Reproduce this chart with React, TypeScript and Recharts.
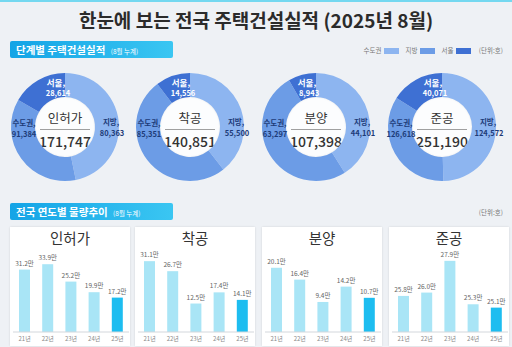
import React from 'react';
import { PieChart, Pie, Cell, BarChart, Bar, XAxis, YAxis, LabelList } from 'recharts';

const stages = ['인허가', '착공', '분양', '준공'];
const totals = [171747, 140851, 107398, 251190];
const localValues = [80363, 55500, 44101, 124572];
const capitalValues = [91384, 85351, 63297, 126618];
const seoulValues = [28614, 14556, 8943, 40071];

const years = ['21년', '22년', '23년', '24년', '25년'];
const permitTrend = [31.2, 33.9, 25.2, 19.9, 17.2];
const startTrend = [31.1, 26.7, 12.5, 17.4, 14.1];
const saleTrend = [20.1, 16.4, 9.4, 14.2, 10.7];
const completionTrend = [25.8, 26.0, 27.9, 25.3, 25.1];

const FONT = '"Noto Sans CJK KR", "Noto Sans", sans-serif';
const SLICE_COLORS = ['#8db5f0', '#6c9ce6', '#3e70d3'];
const NAVY = '#1d3b78';

const fmt = (n: number) => n.toLocaleString('en-US');

const SectionHeader: React.FC<{ top: number; title: string }> = ({ top, title }) => (
    <div style={{
        position: 'absolute', left: 10, top, width: 163, height: 17,
        background: 'linear-gradient(90deg, #14a4e6, #3ac6f2)', borderRadius: 2,
        color: '#fff', fontWeight: 700, fontSize: 10.5, lineHeight: '17px', paddingLeft: 6, boxSizing: 'border-box',
        whiteSpace: 'nowrap'
    }}>
        {title} <span style={{ fontSize: 6.5, fontWeight: 400, marginLeft: 3 }}>(8월 누계)</span>
    </div>
);

const Donut: React.FC<{ idx: number; cx: number }> = ({ idx, cx }) => {
    const cy = 127;
    const w = 130;
    const h = 130;
    const inner = 30;
    const data = [
        { name: '지방', value: localValues[idx] },
        { name: '수도권', value: capitalValues[idx] - seoulValues[idx] },
        { name: '서울', value: seoulValues[idx] },
    ];

    const renderLabel = (props: any) => {
        const x0 = props.cx ?? w / 2;
        const y0 = props.cy ?? h / 2;
        const common = { fontSize: 7.5, fontWeight: 700, textAnchor: 'middle' as const, fontFamily: FONT };
        if (props.index === 0) {
            return (
                <g>
                    <text x={x0 + 46} y={y0 - 2} fill={NAVY} {...common}>지방,</text>
                    <text x={x0 + 47} y={y0 + 9} fill={NAVY} {...common}>{fmt(localValues[idx])}</text>
                </g>
            );
        }
        if (props.index === 1) {
            return (
                <g>
                    <text x={x0 - 41} y={y0 - 1} fill={NAVY} {...common}>수도권,</text>
                    <text x={x0 - 41} y={y0 + 10} fill={NAVY} {...common}>{fmt(capitalValues[idx])}</text>
                </g>
            );
        }
        return (
            <g>
                <text x={x0 - 9} y={y0 - 41} fill="#fff" {...common} fontSize={8.5}>서울,</text>
                <text x={x0 - 7} y={y0 - 31} fill="#fff" {...common}>{fmt(seoulValues[idx])}</text>
            </g>
        );
    };

    return (
        <div style={{ position: 'absolute', left: cx - w / 2, top: cy - h / 2, width: w, height: h }}>
            <div style={{
                position: 'absolute', left: w / 2 - inner, top: h / 2 - inner, width: inner * 2, height: inner * 2, borderRadius: '50%',
                background: '#fcfdfe', boxShadow: 'inset 0 0 2px rgba(0,0,0,0.1)'
            }} />
            <div style={{ position: 'absolute', left: 0, top: h / 2 - 18, width: w, textAlign: 'center', fontSize: 12.5, color: '#333', lineHeight: '17px' }}>
                {stages[idx]}
            </div>
            <div style={{ position: 'absolute', left: w / 2 - 25, top: h / 2 + 2, width: 50, height: 1, background: '#a0a0a0' }} />
            <div style={{ position: 'absolute', left: 0, top: h / 2 + 5, width: w, textAlign: 'center', fontSize: 14, fontWeight: 500, color: '#333', lineHeight: '18px' }}>
                {fmt(totals[idx])}
            </div>
            <div style={{ position: 'absolute', left: 0, top: 0 }}>
                <PieChart width={w} height={h} margin={{ top: 0, right: 0, bottom: 0, left: 0 }}>
                    <Pie
                        data={data}
                        dataKey="value"
                        cx="50%"
                        cy="50%"
                        startAngle={90}
                        endAngle={-270}
                        innerRadius={inner}
                        outerRadius={54}
                        stroke="none"
                        labelLine={false}
                        label={renderLabel}
                        isAnimationActive={false}
                    >
                        {data.map((_, i) => <Cell key={i} fill={SLICE_COLORS[i]} />)}
                    </Pie>
                </PieChart>
            </div>
        </div>
    );
};

const TrendCard: React.FC<{ title: string; values: number[]; domain: [number, number]; left: number }> = ({ title, values, domain, left }) => {
    const data = years.map((y, i) => ({ year: y, value: values[i] }));
    return (
        <div style={{ position: 'absolute', left, top: 227, width: 120, height: 119, background: '#fff', boxShadow: '0 0 2px rgba(0,0,0,0.12)' }}>
            <div style={{ position: 'absolute', top: 1, width: '100%', textAlign: 'center', fontSize: 14.5, color: '#333', lineHeight: '20px' }}>{title}</div>
            <div style={{ position: 'absolute', left: 0, top: 0 }}>
                <BarChart width={120} height={119} data={data} margin={{ top: 28, right: 1, left: 3, bottom: 0 }}>
                    <XAxis
                        dataKey="year"
                        tickLine={false}
                        tickSize={3}
                        axisLine={{ stroke: '#d3d7dc' }}
                        tick={{ fontSize: 6, fill: '#888', fontFamily: FONT }}
                        height={14}
                        interval={0}
                    />
                    <YAxis hide domain={domain} allowDataOverflow />
                    <Bar dataKey="value" barSize={11} isAnimationActive={false}>
                        {data.map((_, i) => <Cell key={i} fill={i === data.length - 1 ? '#1dbdf0' : '#a9e5f6'} />)}
                        <LabelList
                            dataKey="value"
                            position="top"
                            offset={4}
                            formatter={(v: any) => `${Number(v).toFixed(1)}만`}
                            style={{ fontSize: 6.5, fill: '#666', fontFamily: FONT }}
                        />
                    </Bar>
                </BarChart>
            </div>
        </div>
    );
};

const LegendSwatch: React.FC<{ color: string }> = ({ color }) => (
    <span style={{ display: 'inline-block', width: 15, height: 6, background: color, margin: '0 6px 0 3px', verticalAlign: 'middle' }} />
);

const App: React.FC = () => {
    const donutCenters = [65, 190, 316, 442];
    return (
        <div style={{ position: 'absolute', left: 0, top: 0, width: 512, height: 347, background: '#eef1f5', overflow: 'hidden', fontFamily: FONT }}>
            <div style={{ position: 'absolute', left: 0, top: 0, width: 512, height: 2, background: '#74d8f0' }} />
            <div style={{ position: 'absolute', left: 0, top: 6, width: 512, textAlign: 'center', fontSize: 19, fontWeight: 700, color: '#2b2b2b', lineHeight: '28px' }}>
                한눈에 보는 전국 주택건설실적 (2025년 8월)
            </div>

            <SectionHeader top={41} title="단계별 주택건설실적" />
            <div style={{ position: 'absolute', right: 9, top: 44, fontSize: 6.5, color: '#777', lineHeight: '12px', whiteSpace: 'nowrap' }}>
                수도권<LegendSwatch color={SLICE_COLORS[0]} />지방<LegendSwatch color={SLICE_COLORS[1]} />서울<LegendSwatch color={SLICE_COLORS[2]} /> (단위:호)
            </div>

            {donutCenters.map((c, i) => <Donut key={i} idx={i} cx={c} />)}

            <SectionHeader top={203} title="전국 연도별 물량추이" />
            <div style={{ position: 'absolute', right: 9, top: 206, fontSize: 6.5, color: '#777', lineHeight: '12px' }}>(단위:호)</div>

            <TrendCard title="인허가" values={permitTrend} domain={[0, 38.5]} left={10} />
            <TrendCard title="착공" values={startTrend} domain={[0, 33.8]} left={135} />
            <TrendCard title="분양" values={saleTrend} domain={[0, 24.1]} left={262} />
            <TrendCard title="준공" values={completionTrend} domain={[23.64, 28.25]} left={389} />
        </div>
    );
};

export default App;
